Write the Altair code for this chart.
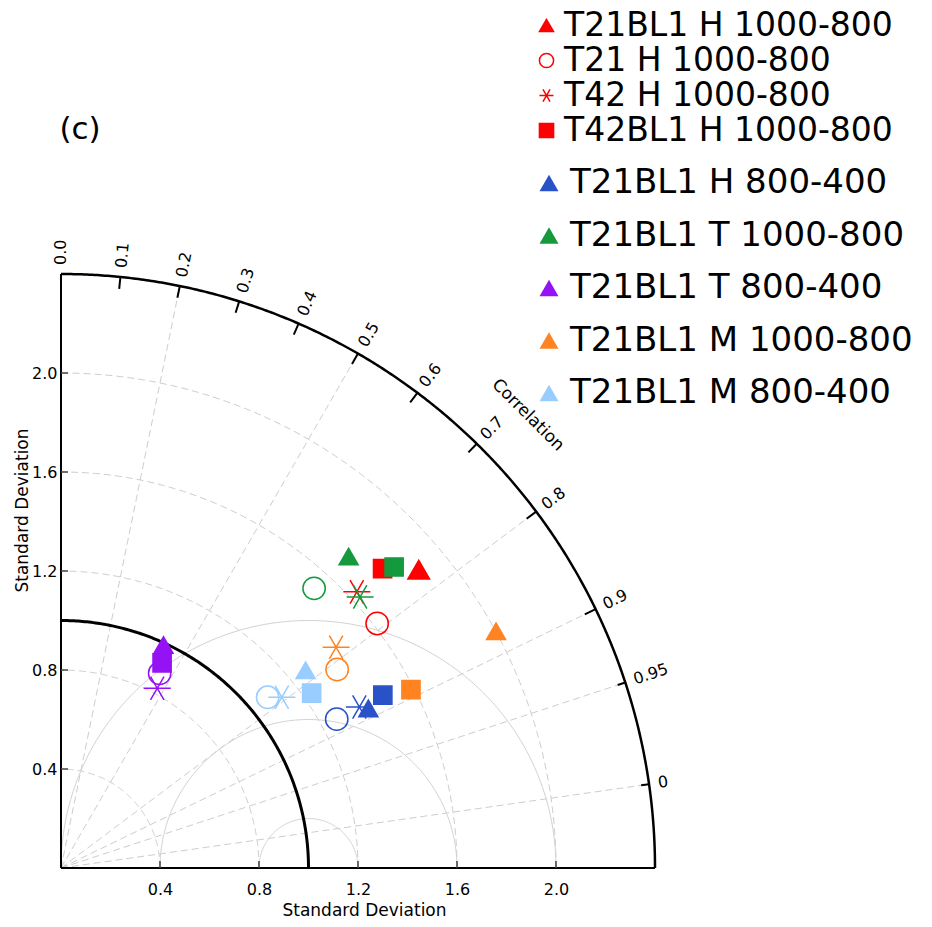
import math
import numpy as np
import pandas as pd
import altair as alt

# ---------------- data ----------------
groups = ["H 1000-800", "H 800-400", "T 1000-800", "T 800-400", "M 1000-800", "M 800-400"]
markers = ["T21BL1", "T21", "T42", "T42BL1"]

# standard deviation and correlation per group, marker order: T21BL1, T21, T42, T42BL1
std_H_1000_800 = [1.882, 1.615, 1.635, 1.775]
corr_H_1000_800 = [0.768, 0.791, 0.731, 0.732]
std_H_800_400 = [1.400, 1.266, 1.370, 1.476]
corr_H_800_400 = [0.887, 0.880, 0.880, 0.881]
std_T_1000_800 = [1.714, 1.524, 1.631, 1.814]
corr_T_1000_800 = [0.678, 0.671, 0.741, 0.742]
std_T_800_400 = [0.993, 0.882, 0.824, 0.924]
corr_T_800_400 = [0.417, 0.452, 0.472, 0.442]
std_M_1000_800 = [2.002, 1.374, 1.425, 1.587]
corr_M_1000_800 = [0.878, 0.812, 0.780, 0.891]
std_M_800_400 = [1.272, 1.083, 1.128, 1.235]
corr_M_800_400 = [0.777, 0.771, 0.791, 0.820]

legend_top = ["T21BL1 H 1000-800", "T21 H 1000-800", "T42 H 1000-800", "T42BL1 H 1000-800"]
legend_bottom = ["T21BL1 H 800-400", "T21BL1 T 1000-800", "T21BL1 T 800-400",
                 "T21BL1 M 1000-800", "T21BL1 M 800-400"]

std_ticks = [0.4, 0.8, 1.2, 1.6, 2.0]
corr_ticks = [0.0, 0.1, 0.2, 0.3, 0.4, 0.5, 0.6, 0.7, 0.8, 0.9, 0.95, 0.99]
corr_tick_labels = ["0.0", "0.1", "0.2", "0.3", "0.4", "0.5", "0.6", "0.7", "0.8", "0.9", "0.95", "0"]
corr_grid = [0.2, 0.5, 0.8, 0.9, 0.95, 0.99]
std_grid = [0.4, 0.8, 1.2, 1.6, 2.0]
rms_grid = [0.2, 0.6, 1.0]
ref_std = 1.0
max_std = 2.4

# ---------------- styles ----------------
FONT = "DejaVu Sans"
ASTERISK = "M-1,0L1,0M-0.5,-0.866L0.5,0.866M-0.5,0.866L0.5,-0.866"
group_color = {"H 1000-800": "#ff0000", "H 800-400": "#2a52c8", "T 1000-800": "#149a3c",
               "T 800-400": "#9512f5", "M 1000-800": "#ff8320", "M 800-400": "#99ccff"}
marker_shape = {"T21BL1": "triangle-up", "T21": "circle", "T42": ASTERISK, "T42BL1": "square"}
marker_filled = {"T21BL1": True, "T21": False, "T42": False, "T42BL1": True}
marker_size = {"T21BL1": 470, "T21": 500, "T42": 729, "T42BL1": 330}

PX = 247.5              # pixels per unit
W, H = 863, 860         # plot area
XMAX, YMAX = W / PX, H / PX

std_by_group = {"H 1000-800": std_H_1000_800, "H 800-400": std_H_800_400,
                "T 1000-800": std_T_1000_800, "T 800-400": std_T_800_400,
                "M 1000-800": std_M_1000_800, "M 800-400": std_M_800_400}
corr_by_group = {"H 1000-800": corr_H_1000_800, "H 800-400": corr_H_800_400,
                 "T 1000-800": corr_T_1000_800, "T 800-400": corr_T_800_400,
                 "M 1000-800": corr_M_1000_800, "M 800-400": corr_M_800_400}

rows = []
for g in groups:
    for i, m in enumerate(markers):
        s, c = std_by_group[g][i], corr_by_group[g][i]
        rows.append(dict(group=g, marker=m, x=s * c, y=s * math.sqrt(1 - c * c),
                         lg1=f"{m} {g}" if g == "H 1000-800" else None,
                         lg2=f"T21BL1 {g}" if (g != "H 1000-800" and m == "T21BL1") else None,
                         fillc=group_color[g] if marker_filled[m] else "transparent",
                         strokec=group_color[g], shp=marker_shape[m], sz=marker_size[m]))
pts = pd.DataFrame(rows)
pts1 = pts[pts.lg1.notna()]
pts2 = pts[pts.lg2.notna()]
pts0 = pts[pts.lg1.isna() & pts.lg2.isna()]

# ---------------- geometry ----------------
def arc_rows(r, cx, a0, a1, key, n=181):
    t = np.radians(np.linspace(a0, a1, n))
    return [dict(x=cx + r * math.cos(a), y=r * math.sin(a), id=key, ord=k) for k, a in enumerate(t)]

dashed = []
for r in std_grid:
    dashed += arc_rows(r, 0, 0, 90, f"s{r}")
for c in corr_grid:
    th = math.acos(c)
    dashed += [dict(x=0, y=0, id=f"c{c}", ord=0),
               dict(x=max_std * math.cos(th), y=max_std * math.sin(th), id=f"c{c}", ord=1)]
dashed = pd.DataFrame(dashed)

rms = []
for r in rms_grid:
    rms += arc_rows(r, ref_std, 0, 180, f"r{r}")
rms = pd.DataFrame(rms)

ref_arc = pd.DataFrame(arc_rows(ref_std, 0, 0, 90, "ref"))
outer_arc = pd.DataFrame(arc_rows(max_std, 0, 0, 90, "out", 361))

axes_lines = pd.DataFrame([dict(x=0, y=0, x2=max_std, y2=0), dict(x=0, y=0, x2=0, y2=max_std)])
tl = 7 / PX
axis_ticks = pd.DataFrame([dict(x=v, y=0, x2=v, y2=tl) for v in std_ticks] +
                          [dict(x=0, y=v, x2=tl, y2=v) for v in std_ticks])

ctick = []
clab = []
for c, lab in zip(corr_ticks, corr_tick_labels):
    th = math.acos(c)
    ln = (12 if c <= 0.9 else 8) / PX
    if c > 0:
        ctick.append(dict(x=max_std * math.cos(th), y=max_std * math.sin(th),
                          x2=(max_std - ln) * math.cos(th), y2=(max_std - ln) * math.sin(th)))
    rl = max_std + 9 / PX
    clab.append(dict(x=rl * math.cos(th), y=rl * math.sin(th), txt=lab,
                     ang=(360 - math.degrees(th)) % 360))
ctick = pd.DataFrame(ctick)
clab = pd.DataFrame(clab)

# ---------------- encodings ----------------
xs = alt.Scale(domain=[0, XMAX], nice=False, zero=False)
ys = alt.Scale(domain=[0, YMAX], nice=False, zero=False)
x_axis = alt.Axis(values=std_ticks, format=".1f", title="Standard Deviation", domain=False,
                  ticks=False, grid=False, labelFont=FONT, labelFontSize=16, labelColor="black",
                  labelPadding=13, titleFont=FONT, titleFontSize=17, titleFontWeight="normal",
                  titleColor="black", titleX=303, titleY=42, titleBaseline="middle")
y_axis = alt.Axis(values=std_ticks, format=".1f", title="Standard Deviation", domain=False,
                  ticks=False, grid=False, labelFont=FONT, labelFontSize=16, labelColor="black",
                  labelPadding=4, titleFont=FONT, titleFontSize=17, titleFontWeight="normal",
                  titleColor="black", titleX=-39, titleY=502, titleAngle=270,
                  titleBaseline="middle")
X = alt.X("x:Q", scale=xs, axis=x_axis)
Y = alt.Y("y:Q", scale=ys, axis=y_axis)

base_line = dict(x=X, y=Y, detail="id:N", order="ord:Q")

l_dashed = alt.Chart(dashed).mark_line(color="#cdcdcd", strokeWidth=1, strokeDash=[7, 4]).encode(**base_line)
l_rms = alt.Chart(rms).mark_line(color="#d2d2d2", strokeWidth=1).encode(**base_line)
l_ref = alt.Chart(ref_arc).mark_line(color="black", strokeWidth=3).encode(**base_line)
l_out = alt.Chart(outer_arc).mark_line(color="black", strokeWidth=2.5).encode(**base_line)
l_axes = alt.Chart(axes_lines).mark_rule(color="black", strokeWidth=2).encode(x=X, y=Y, x2="x2:Q", y2="y2:Q")
l_aticks = alt.Chart(axis_ticks).mark_rule(color="#444444", strokeWidth=1.5).encode(x=X, y=Y, x2="x2:Q", y2="y2:Q")
l_cticks = alt.Chart(ctick).mark_rule(color="black", strokeWidth=2).encode(x=X, y=Y, x2="x2:Q", y2="y2:Q")
l_clab = alt.Chart(clab).mark_text(align="left", baseline="middle", font=FONT, fontSize=16,
                                   color="black").encode(x=X, y=Y, text="txt:N",
                                                         angle=alt.Angle("ang:Q", scale=None))

annot = pd.DataFrame([dict(x=1.887, y=1.830, txt="Correlation", ang=45, fs=17),
                      dict(x=0.077, y=2.982, txt="(c)", ang=0, fs=31)])
l_annot = alt.Chart(annot).mark_text(align="center", baseline="middle", font=FONT,
                                     color="black").encode(
    x=X, y=Y, text="txt:N", angle=alt.Angle("ang:Q", scale=None), size=alt.Size("fs:Q", scale=None))

leg1 = alt.Legend(orient="none", legendX=469, legendY=1, title=None, labelFont=FONT,
                  labelFontSize=33, labelLimit=600, labelColor="black", symbolSize=200,
                  symbolStrokeWidth=1.5, rowPadding=1, labelOffset=1, padding=0)
leg2 = alt.Legend(orient="none", legendX=471, legendY=158, title=None, labelFont=FONT,
                  labelFontSize=34, labelLimit=600, labelColor="black", symbolSize=361,
                  symbolType="triangle-up", symbolStrokeWidth=0, rowPadding=18.5,
                  labelOffset=4, padding=0)

p1 = alt.Chart(pts1).mark_point(strokeWidth=1.5, opacity=1).encode(
    x=X, y=Y,
    shape=alt.Shape("lg1:N", scale=alt.Scale(domain=legend_top,
                    range=[marker_shape[m] for m in markers]), legend=leg1),
    fill=alt.Fill("lg1:N", scale=alt.Scale(domain=legend_top,
                  range=["#ff0000" if marker_filled[m] else "transparent" for m in markers]), legend=leg1),
    stroke=alt.Stroke("lg1:N", scale=alt.Scale(domain=legend_top, range=["#ff0000"] * 4), legend=leg1),
    size=alt.Size("sz:Q", scale=None))

p0 = alt.Chart(pts0).mark_point(strokeWidth=1.5, opacity=1).encode(
    x=X, y=Y,
    shape=alt.Shape("shp:N", scale=None),
    fill=alt.Fill("fillc:N", scale=None),
    stroke=alt.Stroke("strokec:N", scale=None),
    size=alt.Size("sz:Q", scale=None))

p2 = alt.Chart(pts2).mark_point(filled=True, shape="triangle-up", size=marker_size["T21BL1"],
                                strokeWidth=0, opacity=1).encode(
    x=X, y=Y,
    fill=alt.Fill("lg2:N", scale=alt.Scale(domain=legend_bottom,
                  range=[group_color[g] for g in groups[1:]]), legend=leg2))

chart = alt.layer(l_dashed, l_rms, l_ref, l_out, l_axes, l_aticks, l_cticks, l_clab, l_annot,
                  p1, p0, p2).resolve_scale(
    fill="independent", stroke="independent", shape="independent", size="independent"
).properties(
    width=W, height=H,
    autosize=alt.AutoSizeParams(type="none"),
    padding={"left": 53, "top": 0, "right": 0, "bottom": 51},
    background="white",
).configure_view(strokeWidth=0)

chart.save("out.html", embed_options={"renderer": "svg", "actions": False})
